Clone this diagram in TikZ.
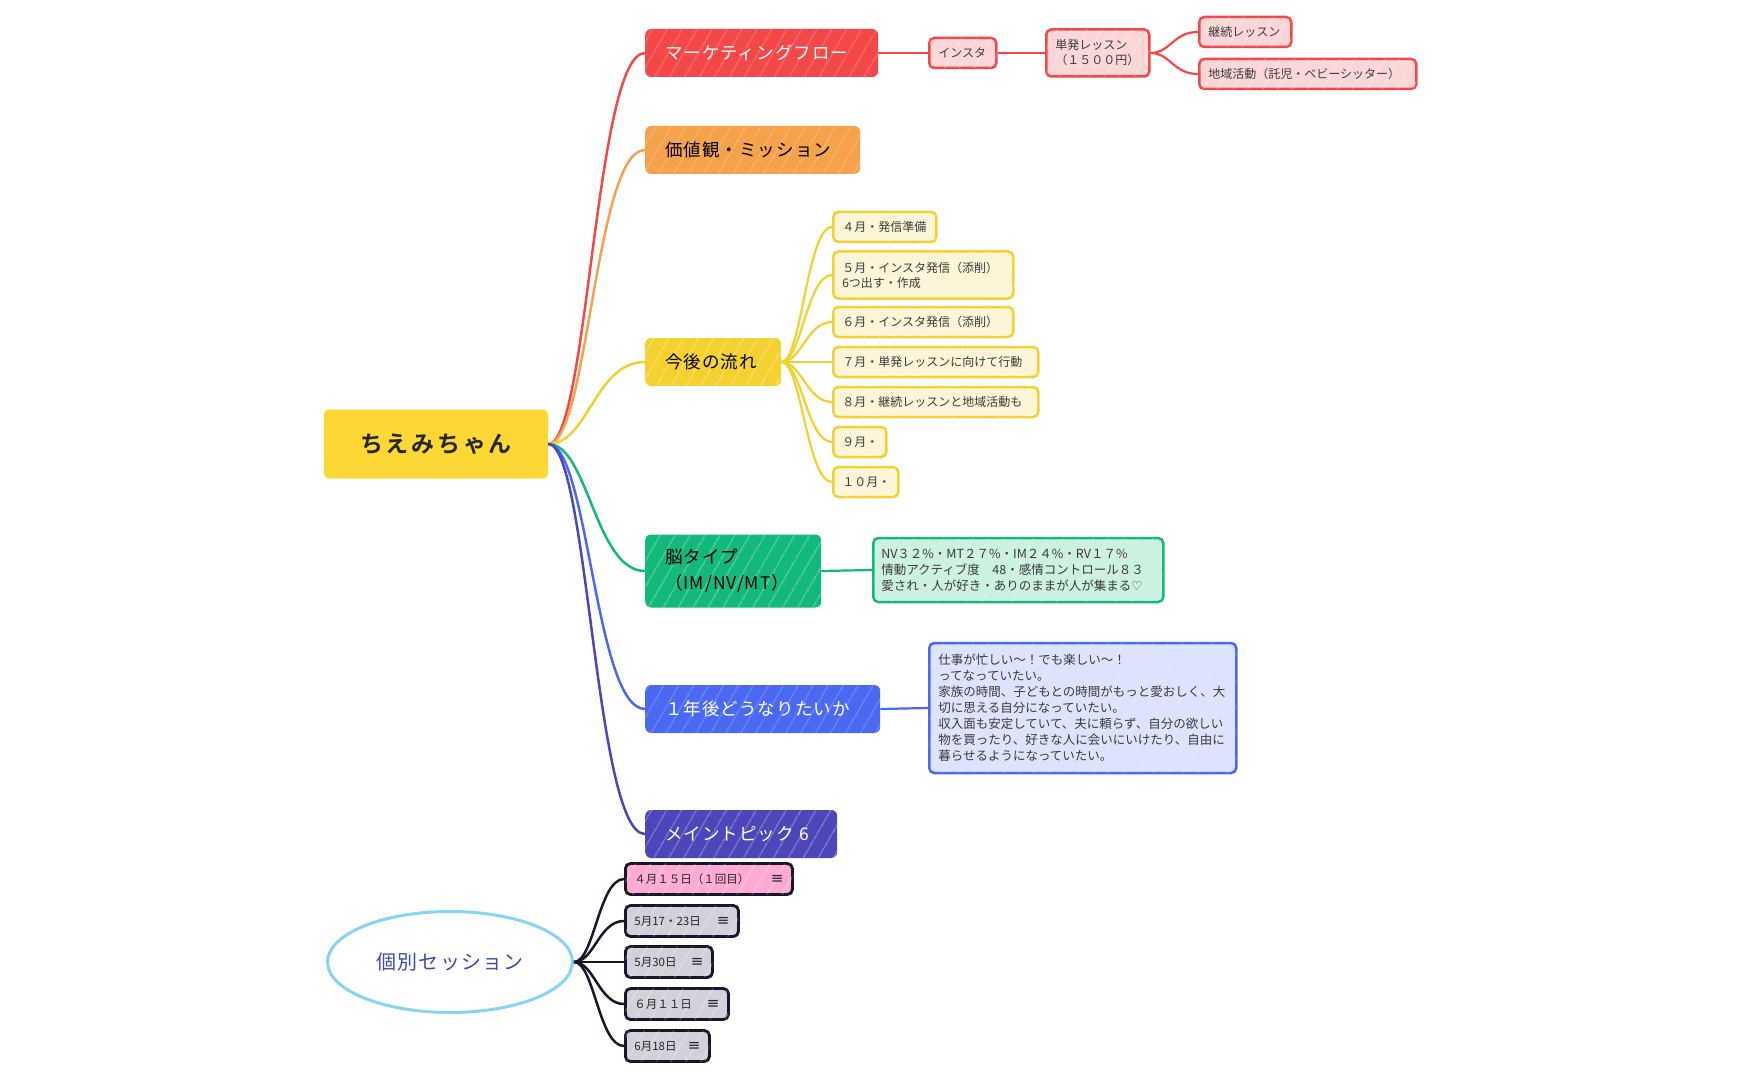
\documentclass[tikz,border=0pt]{standalone}
\usepackage{fontspec}
\setmainfont{Noto Sans CJK JP}[BoldFont={Noto Sans CJK JP Bold}]
\newfontfamily\symfont{DejaVu Sans}
\usepackage{xcolor}
\usetikzlibrary{shapes.geometric,patterns.meta}
\definecolor{rootyellow}{HTML}{FDD835}
\definecolor{mkred}{HTML}{F44747}
\definecolor{mkredlt}{HTML}{FCD6D6}
\definecolor{valorange}{HTML}{F5A24B}
\definecolor{flowyellow}{HTML}{F3D12F}
\definecolor{flowyellowlt}{HTML}{FDF5D6}
\definecolor{braingreen}{HTML}{12B97B}
\definecolor{braingreenlt}{HTML}{CBF1E1}
\definecolor{futblue}{HTML}{4A69F2}
\definecolor{futbluelt}{HTML}{DDE3FD}
\definecolor{topindigo}{HTML}{4B46B9}
\definecolor{sesnavy}{HTML}{17172C}
\definecolor{sesgrey}{HTML}{D1D1D9}
\definecolor{sespink}{HTML}{FFA9D3}
\definecolor{seslblue}{HTML}{87D5F5}
\definecolor{sestext}{HTML}{3E4AAE}
\definecolor{subtext}{HTML}{3A3A3A}

\begin{document}
\begin{tikzpicture}[
  x=1pt, y=-1pt,
  every node/.style={font=\fontsize{12}{15}\selectfont},
  hatch/.style={postaction={pattern={Lines[angle=60,distance=13pt,line width=0.8pt]}, pattern color=white, fill opacity=0.45}},
  rootbox/.style={rectangle, rounded corners=5pt, fill=rootyellow, minimum width=224pt, minimum height=69pt, font=\fontsize{23}{28}\selectfont\bfseries\addfontfeature{LetterSpace=12}, text=black!85},
  topic/.style 2 args={rectangle, rounded corners=6pt, anchor=west, fill=#1, text width=#2, inner xsep=20pt, minimum height=48pt, align=left, font=\fontsize{17.5}{26}\selectfont\addfontfeature{LetterSpace=6}, hatch},
  sub/.style={rectangle, rounded corners=5pt, anchor=west, line width=2.5pt, minimum height=30pt, inner xsep=9pt, inner ysep=4pt, align=left, text=subtext, font=\fontsize{12}{15}\selectfont, hatch},
  mksub/.style={sub, draw=mkred, fill=mkredlt},
  flowsub/.style={sub, draw=flowyellow, fill=flowyellowlt},
  sesitem/.style={sub, draw=sesnavy, fill=sesgrey, line width=2.8pt, minimum height=31pt, text=black!85, font=\fontsize{11.5}{15}\selectfont},
  link/.style={line width=2.5pt, out=0, in=180, out distance=40pt, in distance=50pt},
  sublink/.style={line width=2.2pt, out=0, in=180, out distance=20pt, in distance=25pt}
]
\useasboundingbox (0,0) rectangle (1741,1078);

% Root
\node[rootbox] (root) at (436, 444) {ちえみちゃん};

% Main topics
\node[topic={mkred}{193pt}, text=white] (mkt) at (645, 53) {マーケティングフロー};
\node[topic={valorange}{175pt}] (val) at (645, 150) {価値観・ミッション};
\node[topic={flowyellow}{96pt}] (flow) at (645, 362) {今後の流れ};
\node[topic={braingreen}{136pt}, minimum height=73pt] (brain) at (645, 571) {脳タイプ\\（IM/NV/MT）};
\node[topic={futblue}{195pt}, text=white] (future) at (645, 709) {１年後どうなりたいか};
\node[topic={topindigo}{152pt}, text=white] (topic6) at (645, 834) {メイントピック 6};

% Marketing flow
\node[mksub, text width=49pt] (insta) at (928, 53) {インスタ};
\node[mksub, text width=85pt, minimum height=47pt] (single) at (1045, 53) {単発レッスン\\（１５００円）};
\node[mksub, text width=74pt] (cont) at (1198, 32) {継続レッスン};
\node[mksub, text width=199pt] (local) at (1198, 74) {地域活動（託児・ベビーシッター）};

% Months
\node[flowsub, text width=85pt] (m4) at (832, 227) {４月・発信準備};
\node[flowsub, text width=162pt, minimum height=47pt] (m5) at (832, 275) {５月・インスタ発信（添削）\\6つ出す・作成};
\node[flowsub, text width=162pt] (m6) at (832, 322) {６月・インスタ発信（添削）};
\node[flowsub, text width=187pt] (m7) at (832, 362) {７月・単発レッスンに向けて行動};
\node[flowsub, text width=187pt] (m8) at (832, 402) {８月・継続レッスンと地域活動も};
\node[flowsub, text width=35pt] (m9) at (832, 442) {９月・};
\node[flowsub, text width=47pt] (m10) at (832, 482) {１０月・};

% Details
\node[sub, draw=braingreen, fill=braingreenlt, text width=274pt, inner xsep=8pt, minimum height=64pt, font=\fontsize{12.5}{16}\selectfont] (braininfo) at (872, 570)
  {NV３２\%・MT２７\%・IM２４\%・RV１７\%\\情動アクティブ度　48・感情コントロール８３\\愛され・人が好き・ありのままが人が集まる{\symfont ♡}};
\node[sub, draw=futblue, fill=futbluelt, text width=289pt, minimum height=130pt, font=\fontsize{12.5}{16}\selectfont] (futinfo) at (928, 708)
  {仕事が忙しい〜！でも楽しい〜！\\ってなっていたい。\\家族の時間、子どもとの時間がもっと愛おしく、大\\切に思える自分になっていたい。\\収入面も安定していて、夫に頼らず、自分の欲しい\\物を買ったり、好きな人に会いにいけたり、自由に\\暮らせるようになっていたい。};

% Sessions
\node[ellipse, draw=seslblue, line width=3pt, minimum width=245pt, minimum height=101pt, text=sestext, font=\fontsize{20}{24}\selectfont\addfontfeature{LetterSpace=6}] (ses) at (450, 962) {個別セッション};
\node[sesitem, fill=sespink, text width=149pt] (s1) at (624, 879) {４月１５日（１回目）\hfill{\symfont\fontsize{15}{15}\selectfont ≡}};
\node[sesitem, text width=95pt] (s2) at (624, 921) {5月17・23日\hfill{\symfont\fontsize{15}{15}\selectfont ≡}};
\node[sesitem, text width=69pt] (s3) at (624, 962) {5月30日\hfill{\symfont\fontsize{15}{15}\selectfont ≡}};
\node[sesitem, text width=85pt] (s4) at (624, 1004) {６月１１日\hfill{\symfont\fontsize{15}{15}\selectfont ≡}};
\node[sesitem, text width=66pt] (s5) at (624, 1046) {6月18日\hfill{\symfont\fontsize{15}{15}\selectfont ≡}};

% Root links
\draw[link, mkred] (root.east) to (mkt.west);
\draw[link, valorange] (root.east) to (val.west);
\draw[link, flowyellow] (root.east) to (flow.west);
\draw[link, braingreen] (root.east) to (brain.west);
\draw[link, futblue] (root.east) to (future.west);
\draw[link, topindigo] (root.east) to (topic6.west);

% Branch links
\draw[sublink, mkred] (mkt.east) -- (insta.west);
\draw[sublink, mkred] (insta.east) -- (single.west);
\draw[sublink, mkred] (single.east) to (cont.west);
\draw[sublink, mkred] (single.east) to (local.west);
\foreach \m in {m4,m5,m6,m7,m8,m9,m10}
  \draw[sublink, flowyellow] (flow.east) to (\m.west);
\draw[sublink, braingreen] (brain.east) -- (braininfo.west);
\draw[sublink, futblue] (future.east) -- (futinfo.west);
\foreach \s in {s1,s2,s3,s4,s5}
  \draw[sublink, sesnavy, line width=2.5pt] (ses.east) to (\s.west);

\end{tikzpicture}
\end{document}
